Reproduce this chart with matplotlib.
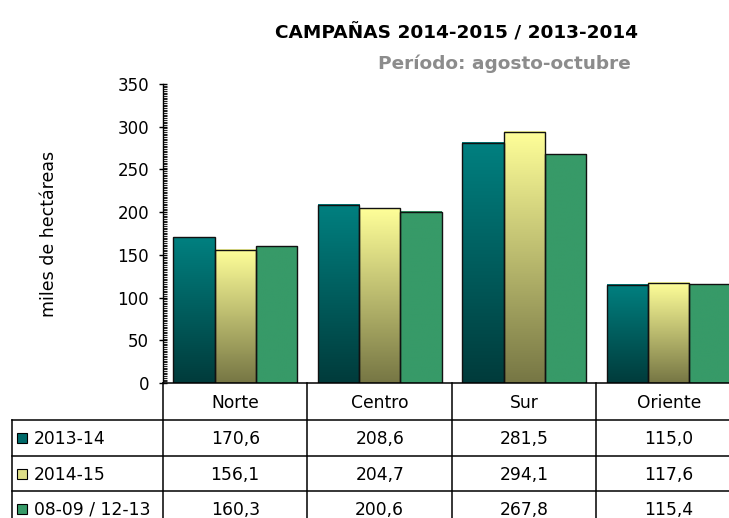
import matplotlib
matplotlib.use("Agg")
import matplotlib.pyplot as plt
import numpy as np
from matplotlib.colors import LinearSegmentedColormap
from matplotlib.ticker import MultipleLocator
import matplotlib.patches as mpatches

# data
categories = ['Norte', 'Centro', 'Sur', 'Oriente']
series_names = ['2013-14', '2014-15', '08-09 / 12-13']
v_2013_14 = [170.6, 208.6, 281.5, 115.0]
v_2014_15 = [156.1, 204.7, 294.1, 117.6]
v_hist = [160.3, 200.6, 267.8, 115.4]
series_values = [v_2013_14, v_2014_15, v_hist]

# colours (top, bottom) of each bar gradient
grad_colors = [('#008080', '#003b3b'), ('#ffff99', '#767644'), ('#379a68', '#379a68')]
legend_colors = ['#006a6a', '#dede88', '#379a68']

plt.rcParams['font.family'] = ['DejaVu Sans']

W, H = 729, 518
fig = plt.figure(figsize=(W / 100, H / 100), dpi=100)

# layout in pixels
AX_L, AX_T, AX_B = 163, 84, 383
CAT_W = 144.5
n_cat = len(categories)
ax = fig.add_axes([AX_L / W, (H - AX_B) / H, n_cat * CAT_W / W, (AX_B - AX_T) / H])

bw = 0.285
x = np.arange(n_cat)
for s, vals in enumerate(series_values):
    cmap = LinearSegmentedColormap.from_list('g%d' % s, [grad_colors[s][1], grad_colors[s][0]])
    grad = np.linspace(0, 1, 256).reshape(-1, 1)
    for i, v in enumerate(vals):
        x0 = x[i] + 0.5 + (s - 1.5) * bw
        ax.imshow(grad, cmap=cmap, origin='lower', extent=[x0, x0 + bw, 0, v],
                  aspect='auto', zorder=1, interpolation='bilinear')
        ax.add_patch(mpatches.Rectangle((x0, 0), bw, v, facecolor='none',
                                        edgecolor='#111111', linewidth=1.0, zorder=2))

ax.set_xlim(0, n_cat)
ax.set_ylim(0, 350)
ax.set_aspect('auto')
ax.yaxis.set_major_locator(MultipleLocator(50))
ax.yaxis.set_minor_locator(MultipleLocator(2))
ax.tick_params(axis='y', which='major', direction='inout', length=6, width=1.0,
               labelsize=12, pad=7)
ax.tick_params(axis='y', which='minor', direction='in', length=3, width=0.8, color='#222222')
ax.set_xticks([])
for sp in ['top', 'right', 'bottom']:
    ax.spines[sp].set_visible(False)
ax.spines['left'].set_linewidth(1.0)
ax.set_ylabel('miles de hectáreas', fontsize=12.5)
ax.yaxis.set_label_coords(-(AX_L - 58) / (n_cat * CAT_W), 0.5)

# titles
fig.text(456 / W, 1 - 33 / H, 'CAMPAÑAS 2014-2015 / 2013-2014', ha='center', va='center',
         fontsize=13.3, fontweight='bold')
fig.text(504 / W, 1 - 64 / H, 'Período: agosto-octubre', ha='center', va='center',
         fontsize=13.3, fontweight='bold', color='#8c8c8c')

# data table drawn on an overlay in pixel coordinates
tab = fig.add_axes([0, 0, 1, 1], facecolor='none')
tab.set_xlim(0, W)
tab.set_ylim(H, 0)
tab.axis('off')

TAB_L = 12
rows_y = [383, 420, 456, 491, 527]
col_x = [AX_L + i * CAT_W for i in range(n_cat + 1)]
lw = 1.1
tab.plot([AX_L, W + 20], [rows_y[0]] * 2, color='black', lw=lw)
for y in rows_y[1:]:
    tab.plot([TAB_L, W + 20], [y, y], color='black', lw=lw)
tab.plot([TAB_L, TAB_L], [rows_y[1], H + 5], color='black', lw=lw)
for cx in col_x:
    tab.plot([cx, cx], [rows_y[0], H + 5], color='black', lw=lw)

for i, c in enumerate(categories):
    tab.text(col_x[i] + CAT_W / 2, (rows_y[0] + rows_y[1]) / 2 + 1, c,
             ha='center', va='center', fontsize=12.3)

for s, name in enumerate(series_names):
    yc = (rows_y[s + 1] + rows_y[s + 2]) / 2
    tab.add_patch(mpatches.Rectangle((17, yc - 5), 10, 10, facecolor=legend_colors[s],
                                     edgecolor='black', linewidth=0.8))
    tab.text(34, yc + 1, name, ha='left', va='center', fontsize=12.3)
    for i, v in enumerate(series_values[s]):
        tab.text(col_x[i] + CAT_W / 2, yc + 1, ('%.1f' % v).replace('.', ','),
                 ha='center', va='center', fontsize=12.3)

fig.savefig('out.png', dpi=100)
